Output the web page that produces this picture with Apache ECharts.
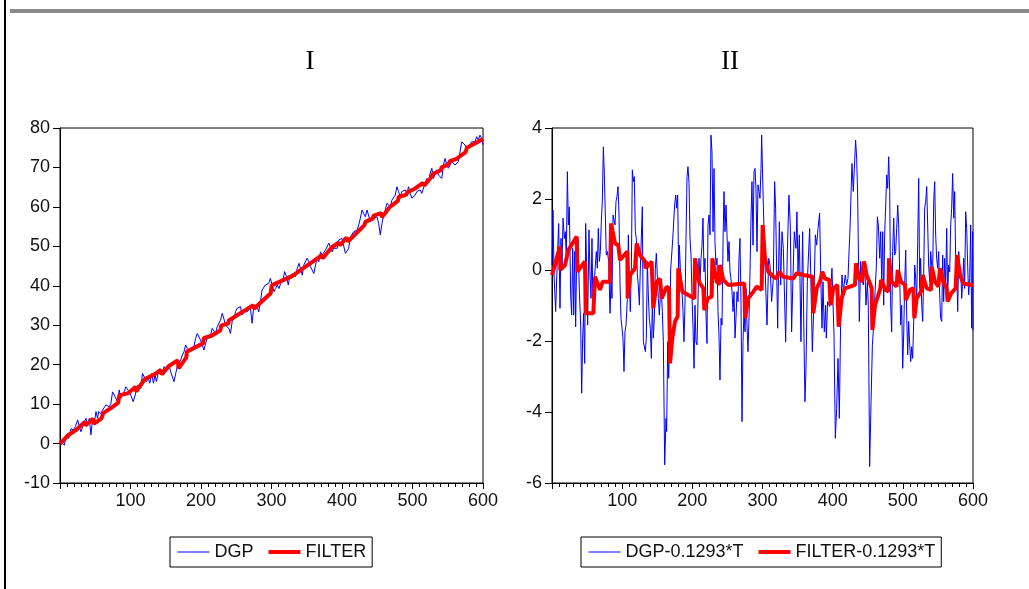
<!DOCTYPE html>
<html>
<head>
<meta charset="utf-8">
<script src="https://cdn.jsdelivr.net/npm/echarts@6/dist/echarts.min.js"></script>
<style>
  html, body { margin: 0; padding: 0; background: #fff; }
  #main { width: 1029px; height: 589px; }
</style>
</head>
<body>
<div id="main"></div>
<script>
// panel titles and legend names
var panelTitles = ['I', 'II'];
var namesLevel = ['DGP', 'FILTER'];
var namesDetrended = ['DGP-0.1293*T', 'FILTER-0.1293*T'];

// axis ranges (min, max, step)
var timeAxis = [0, 600, 100];
var levelAxis = [-10, 80, 10];
var detrendedAxis = [-6, 4, 2];

// panel I : DGP as [t, value]
var dgpLevel = [
  [1, 0.5], [2.9, 0.9], [6.2, -0.4], [8.6, 2.2], [12.3, 1.3], [15.6, 3.8], [18.9, 3.4], [21.8, 4.3], [25.1, 6.0],
  [27.4, 4.3], [29.8, 3.0], [32.1, 4.3], [34.5, 5.5], [36.9, 6.4], [39.2, 4.7], [41.6, 6.4], [43.9, 2.2],
  [46.3, 6.4], [48.6, 5.1], [51, 8.1], [53.3, 6.4], [54.8, 8.1], [58.1, 7.6], [60.4, 8.5], [62.8, 8.9],
  [65.1, 9.8], [67.5, 9.9], [69.8, 9.3], [72.2, 10.2], [74.5, 13.1], [76.9, 12.3], [79.3, 12.3], [81.6, 10.6],
  [84, 13.6], [86.3, 11.5], [88.7, 12.3], [91, 13.1], [93.4, 14.4], [95.8, 14.0], [98.1, 13.1], [100.5, 12.3],
  [103.8, 10.6], [106.6, 12.3], [109.9, 14.8], [112.3, 15.3], [114.6, 14.0], [117, 17.8], [119.3, 17.8],
  [122.6, 15.7], [125.4, 16.5], [127.3, 15.3], [130.2, 17.8], [132.5, 15.3], [134.9, 17.4], [136.8, 15.7],
  [139.6, 18.2], [142.9, 17.4], [145.2, 18.2], [147.6, 19.5], [150, 19.9], [152.3, 18.6], [154.7, 19.9],
  [157, 18.2], [159.4, 17.8], [161.7, 15.7], [164.1, 17.8], [166.4, 19.5], [168.8, 20.3], [171.2, 21.2],
  [173.5, 22.4], [175.9, 23.3], [178.2, 25.0], [180.6, 24.1], [182.9, 23.3], [185.3, 24.1], [187.7, 23.7],
  [190, 24.6], [192.4, 26.7], [194.7, 27.9], [197.1, 27.5], [199.4, 26.2], [201.8, 25.0], [204.1, 23.7],
  [206.5, 25.4], [208.9, 26.7], [211.2, 26.7], [213.6, 27.5], [215.9, 29.2], [218.3, 28.8], [220.6, 27.9],
  [223, 29.6], [225.4, 30.0], [227.7, 31.3], [230.1, 33.0], [232.4, 31.7], [234.8, 30.0], [237.1, 30.0],
  [239.5, 29.2], [241.8, 27.9], [244.2, 30.9], [246.6, 31.7], [248.9, 33.4], [251.3, 34.3], [253.6, 34.7],
  [256, 34.7], [258.3, 32.6], [260.7, 33.4], [263, 33.0], [265.4, 33.4], [267.8, 33.9], [270.1, 34.3],
  [272.5, 30.5], [274.8, 34.7], [277.2, 34.7], [279.5, 34.7], [281.9, 33.4], [284.3, 36.0], [286.6, 38.9],
  [289, 39.3], [291.3, 40.2], [293.7, 39.8], [296, 40.6], [298.4, 41.9], [300.7, 42.3], [303.5, 38.5],
  [305.9, 39.3], [308.2, 40.2], [310.6, 39.3], [313, 40.6], [316.7, 41.9], [318.6, 43.6], [321.4, 42.3],
  [323.8, 40.2], [326.1, 42.7], [328.5, 41.9], [330.8, 43.1], [334.1, 42.3], [336.5, 44.4], [338.9, 45.7],
  [341.2, 44.4], [343.6, 42.7], [345.9, 45.3], [348.3, 45.7], [350.6, 47.0], [353, 46.1], [355.4, 44.8],
  [357.7, 45.3], [360.1, 43.1], [362.4, 45.3], [364.8, 47.0], [367.1, 46.1], [369.5, 48.6], [371.8, 47.8],
  [374.2, 47.4], [376.6, 49.1], [378.9, 48.6], [381.3, 50.8], [383.6, 50.3], [386, 48.6], [388.3, 49.5],
  [390.7, 49.1], [393.1, 49.5], [395.4, 51.6], [397.8, 51.6], [400.1, 52.0], [402.5, 51.6], [404.8, 48.2],
  [407.2, 47.8], [409.5, 49.5], [411.9, 52.4], [414.3, 52.9], [416.6, 53.7], [419, 53.7], [421.3, 54.1],
  [423.7, 55.4], [426, 57.1], [428.4, 59.2], [430.8, 59.6], [433.1, 57.5], [435.5, 59.2], [437.8, 58.8],
  [440.2, 56.3], [442.5, 56.7], [444.9, 57.1], [447.2, 57.5], [449.6, 57.5], [452, 55.8], [454.3, 52.9],
  [456.7, 55.8], [459, 57.9], [461.4, 59.2], [463.7, 60.9], [466.1, 61.3], [468.5, 60.1], [470.8, 61.7],
  [473.2, 61.3], [475.5, 63.0], [477.9, 65.1], [480.2, 63.9], [482.6, 62.6], [484.9, 63.9], [487.3, 63.4],
  [489.7, 64.3], [492, 63.4], [494.4, 65.1], [496.7, 63.4], [499.1, 62.2], [501.4, 61.7], [503.8, 63.0],
  [506.2, 63.9], [508.5, 63.9], [510.9, 64.3], [513.2, 63.4], [515.6, 63.9], [517.9, 66.0], [520.3, 67.2],
  [522.6, 66.4], [525, 68.5], [527.4, 69.8], [529.7, 67.2], [532.1, 68.5], [534.4, 69.4], [536.8, 68.1],
  [539.1, 67.7], [541.5, 67.2], [543.9, 70.6], [546.2, 72.3], [548.6, 70.6], [550.9, 69.8], [553.3, 70.6],
  [555.6, 71.5], [558, 71.5], [560.4, 70.6], [562.7, 70.2], [565.1, 71.5], [567.4, 71.5], [569.8, 76.5],
  [572.1, 76.1], [574.5, 75.7], [576.8, 74.8], [579.2, 74.8], [581.6, 75.7], [583.9, 76.5], [586.3, 76.1],
  [588.6, 76.5], [591, 77.8], [593.3, 77.0], [595.7, 78.2], [598, 77.4], [600, 75.7]
];

// panel I : FILTER
var filterLevel = [
  [0, -0.1], [11.4, 2.1], [11.9, 1.6], [23.3, 3.5], [35.2, 5.5], [36.1, 4.6], [47, 6.3], [48, 5.0], [58.9, 6.4],
  [61.3, 7.7], [72.2, 9.0], [82.7, 10.4], [84.1, 12.2], [96.9, 12.8], [107.4, 14.4], [107.8, 13.2], [120.7, 16.4],
  [133, 17.4], [143, 18.7], [144.4, 17.5], [154, 19.6], [156.3, 19.4], [166.8, 21.1], [168.2, 19.1], [179.1, 21.8],
  [180, 23.3], [202.9, 25.4], [203.8, 26.7], [215.7, 27.4], [217.1, 26.9], [227.6, 28.7], [228.5, 29.9],
  [239, 30.5], [239.4, 31.2], [274.1, 35.1], [275.1, 34.2], [298.8, 38.1], [300.2, 40.1], [329.7, 42.5],
  [371.5, 47.8], [372.4, 46.9], [385.2, 49.7], [395.2, 50.9], [397.1, 50.3], [406.6, 52.2], [408.5, 51.2],
  [431.8, 55.4], [433.2, 56.2], [444, 57.1], [444.6, 57.8], [455.6, 58.4], [456.6, 57.4], [468, 60.0],
  [468.9, 60.4], [479.4, 61.5], [480.3, 62.5], [491.2, 63.1], [492.7, 63.7], [503.1, 64.6], [504.1, 64.3],
  [515, 66.1], [516.4, 65.4], [525.9, 67.4], [528.3, 68.3], [540.2, 69.3], [541.1, 70.0], [550.6, 70.7],
  [553, 71.6], [562.5, 72.2], [563.9, 72.0], [575.3, 73.9], [577.2, 75.0], [600, 77.2]
];

// panel II : DGP-0.1293*T
var dgpDetrended = [
  [0, 0.14], [1.4, 1.69], [2.9, -0.14], [5.2, -1.17], [7.6, 0.33], [9.5, 1.31], [11.4, -1.08], [12.8, 0.89],
  [14.3, 0.14], [15.7, 1.46], [17.6, 0.89], [19, 1.08], [20.4, 0.33], [21.9, 2.77], [23.3, 1.27], [24.7, 1.78],
  [26.6, -0.70], [28, -1.27], [29.5, 0.61], [30.9, -1.27], [32.3, 0.52], [33.7, -1.60], [35.2, 0.42], [37, 0.89],
  [39, -0.61], [40.9, -1.55], [42.3, -3.47], [43.7, -1.92], [45.1, -1.22], [46.6, -2.63], [48, 1.31], [49.4, 0.05],
  [50.8, -1.55], [52.7, 1.13], [54.2, -0.14], [55.6, -0.80], [57, 0.89], [58.4, -1.17], [60.3, -0.33], [61.8, 0.14],
  [63.2, 0.52], [64.6, 0.05], [66, 1.17], [67.5, 0.24], [68.9, 0.52], [70.3, 1.36], [71.7, 1.93], [73.2, 3.47],
  [74.6, 2.68], [76, 2.63], [77.4, 0.42], [78.9, 0.52], [80.8, 0.24], [82.7, -1.22], [84.1, -0.33], [85.5, -0.80],
  [87, 1.55], [88.4, 1.55], [89.8, 1.27], [91.2, 1.93], [92.6, 2.07], [94.1, 2.35], [95.5, 1.55], [96.9, -0.33],
  [98.3, -1.36], [99.8, -1.64], [101.2, -1.92], [102.6, -2.86], [104, -1.74], [105.5, -1.55], [107.4, -0.80],
  [108.8, 0.99], [110.2, -0.24], [111.6, -1.17], [113.1, 0.05], [114.5, 2.82], [115.9, 2.49], [117.3, 2.63],
  [118.8, 1.08], [120.2, 0.89], [121.6, -0.14], [123, -0.42], [124.5, -0.99], [125.9, 0.05], [127.3, 0.05],
  [128.7, 1.78], [130.2, -2.02], [131.6, -2.02], [133, -2.30], [134.4, -1.92], [135.9, 0.24], [137.3, -0.70],
  [138.7, -1.36], [140.1, -1.64], [141.6, -2.49], [143, -0.89], [144.4, -1.92], [145.8, -1.36], [147.3, 0.05],
  [148.7, 0.47], [150.1, 0.42], [151.5, -0.80], [153, -1.27], [155.4, -0.33], [157.2, -1.17], [158.7, -2.02],
  [160.6, -5.49], [162.5, -4.18], [163.4, -4.55], [164.9, -2.02], [166.3, -3.05], [167.7, -1.92], [169.1, 0.0],
  [170.6, -0.05], [172, 0.85], [173.4, 0.80], [174.8, 1.83], [176.3, 2.11], [177.7, 1.74], [179.1, 2.11],
  [180.5, -0.05], [181.5, 0.70], [182.9, 0.05], [184.8, -0.42], [186.7, -1.17], [188.1, -2.02], [189.6, -0.89],
  [191, 0.89], [192.4, 2.63], [193.8, 2.91], [195.3, 2.44], [196.7, 0.89], [198.1, 0.42], [199.5, -0.70],
  [201, -1.64], [202.4, -2.77], [203.8, -0.99], [205.2, -2.02], [206.7, -2.11], [208.1, -0.80], [209.5, 0.33],
  [210.9, -0.33], [212.4, 0.33], [213.8, 0.70], [215.2, 1.46], [216.6, -0.05], [218.1, 0.33], [219.5, -1.27],
  [220.9, -2.07], [222.3, 1.27], [223.8, 1.55], [225.2, 0.99], [226.6, 3.80], [228, 3.33], [229.5, 1.08],
  [230.9, 2.86], [232.3, 0.80], [233.7, 0.14], [235.2, 0.33], [236.6, -1.17], [238, -1.83], [239.4, -3.10],
  [240.9, -1.36], [242.3, -1.55], [243.7, 0.70], [245.1, 2.21], [246.6, 1.08], [248, 1.83], [249.4, 0.99],
  [250.8, 0.24], [252.3, 0.80], [253.7, -0.05], [255.1, -0.24], [256.5, -0.61], [258, -1.17], [259.4, -0.61],
  [260.8, -1.92], [262.2, -1.36], [263.7, -0.61], [265.1, -0.89], [266.5, 0.33], [267.9, 0.89], [269.4, -0.99],
  [270.8, -4.27], [272.2, -2.02], [273.6, -1.17], [275.1, -1.74], [276.5, -0.52], [277.9, -1.55], [279.3, -2.30],
  [280.8, -1.36], [282.2, -0.05], [283.6, 1.46], [285, 2.49], [286.5, 0.70], [287.9, 2.77], [289.3, 2.86],
  [290.7, 2.30], [292.2, 0.52], [293.6, 2.40], [295, 2.21], [296.4, 2.02], [297.9, 2.86], [298.8, 3.80],
  [301.2, 1.83], [303.5, 0.14], [306.4, -1.55], [308.8, 0.33], [310.7, 0.14], [313, -0.89], [315.4, -0.24],
  [317.3, 2.49], [318.7, 1.74], [321.6, -1.64], [324, 1.36], [325.9, -0.42], [327.8, 1.08], [329.7, 0.61],
  [333, -2.02], [335.4, 0.52], [337.7, 2.11], [339.6, 1.27], [341.5, -1.74], [343.4, -0.24], [345.3, 1.08],
  [347.7, 0.61], [349.1, 1.64], [350.6, -0.05], [352.5, 0.99], [354.8, -2.02], [357.2, 1.08], [359.1, -1.92],
  [360.5, -3.71], [361.9, -2.86], [363.9, -0.33], [367.2, 1.17], [369.1, -0.42], [371, -2.30], [372.9, -1.17],
  [375.3, 0.99], [377.2, 0.70], [379.1, 1.17], [381.4, 1.60], [383.3, -0.42], [384.8, -1.64], [386.2, -0.33],
  [388.1, -1.74], [390, -0.99], [390.9, -1.92], [392.8, -0.89], [395.7, -1.03], [399, 0.05], [401.9, -1.83],
  [403.8, -4.74], [405.7, -3.90], [407.6, -2.49], [409.5, -4.18], [411.4, -1.36], [413.3, -0.14], [415.2, -0.61],
  [418, -0.14], [419.9, -0.42], [421.8, -0.24], [424.7, 1.17], [427.5, 3.00], [429.4, 2.21], [432.7, 3.66],
  [434.2, 3.15], [435.6, 2.11], [437, 0.05], [438, -1.45], [439.9, 0.24], [441.8, -0.24], [443.7, -0.42],
  [445.6, 0.24], [447.5, -0.99], [449.4, -0.33], [450.8, -0.99], [452.7, -5.54], [454.7, -3.71], [456.6, -2.11],
  [458.5, -1.55], [460.4, -0.61], [462.3, 0.14], [463.7, 1.50], [465.1, 1.27], [467, 0.33], [468.4, 1.08],
  [469.9, -0.33], [471.3, 1.08], [472.7, -0.99], [474.1, 0.99], [475.6, 1.83], [477, 2.68], [478.4, 2.30],
  [479.8, 3.19], [481.3, 2.21], [482.7, -0.99], [484.1, -1.74], [485.5, 0.52], [487, 1.46], [488.4, 0.42],
  [489.8, 0.52], [491.2, 1.17], [492.7, 1.83], [494.1, 1.27], [495.5, -0.14], [496.9, -1.55], [498.4, -0.99],
  [499.8, -2.77], [501.2, -1.83], [502.6, -0.42], [504.1, 0.56], [505.5, -1.27], [506.9, -2.39], [508.3, -1.45],
  [509.8, -2.11], [511.2, -2.58], [512.6, -2.16], [514, -2.49], [515.5, -1.45], [516.9, 0.14], [518.3, -0.24],
  [519.7, -0.89], [521.2, 0.80], [522.6, 2.58], [524, -0.52], [525.4, 0.33], [526.9, -0.99], [528.3, -1.45],
  [529.7, -0.14], [531.1, 1.74], [532.6, 1.93], [534, 2.35], [535.4, 1.27], [536.8, 0.14], [538.3, -0.33],
  [539.7, 0.52], [541.1, 0.14], [542.5, -0.05], [544, 1.93], [545.4, 2.49], [546.8, 0.99], [548.2, 0.33],
  [549.7, 0.05], [551.1, 0.52], [552.5, -0.70], [553.9, -1.36], [555.4, -1.45], [556.8, 0.42], [558.2, -0.89],
  [559.6, 0.33], [561.1, -0.42], [562.5, 1.17], [563.9, -0.70], [565.3, 0.14], [566.8, -0.05], [568.2, 1.27],
  [569.6, 1.74], [571, 2.72], [572.5, 1.46], [573.9, 2.21], [575.3, 0.33], [576.7, 0.14], [578.2, -1.17],
  [579.6, 0.52], [581, 0.14], [582.4, 0.05], [583.9, -0.80], [585.3, -0.33], [586.7, 0.33], [588.1, -0.52],
  [589.6, 1.64], [591, 1.17], [592.4, 0.14], [593.8, -0.70], [595.3, -0.24], [596.7, 1.27], [598.1, -1.64],
  [599.5, 1.08], [600, -1.70]
];

// panel II : FILTER-0.1293*T
var filterDetrended = [
  [0, -0.14], [11.4, 0.66], [11.9, 0.0], [18.5, 0.14], [23.3, 0.56], [35.2, 0.94], [36.1, -0.05], [47, 0.24],
  [48, -1.22], [58.9, -1.22], [61.3, -0.19], [68.4, -0.56], [72.2, -0.33], [82.7, -0.33], [84.1, 1.31],
  [89.8, 0.75], [94.5, 0.70], [96.9, 0.28], [107.4, 0.52], [107.8, -0.80], [111.2, -0.14], [118.3, 0.05],
  [120.7, 0.75], [125.4, 0.42], [132.5, 0.24], [133.5, 0.05], [142, 0.24], [144.4, -1.08], [149.2, -0.33],
  [154, -0.25], [156.3, -0.80], [163.4, -0.47], [166.8, -0.52], [168.2, -2.63], [171.5, -1.92], [175.3, -1.45],
  [179.1, -1.31], [180, 0.05], [185.8, -0.61], [190.5, -0.66], [202.9, -0.80], [203.8, 0.33], [209.5, -0.33],
  [215.7, -0.52], [217.1, -1.13], [221.9, -0.80], [227.6, -0.75], [228.5, 0.33], [234.7, -0.33], [239, -0.40],
  [239.4, 0.14], [244.2, -0.28], [251.3, -0.42], [274.1, -0.38], [275.1, -1.36], [279.8, -0.80], [287, -0.61],
  [291.7, -0.47], [298.8, -0.56], [300.2, 1.27], [303.5, 0.33], [308.3, -0.05], [315.4, -0.19], [320.2, -0.24],
  [324, -0.05], [329.7, -0.19], [343.9, -0.24], [348.7, -0.09], [358.2, -0.14], [371.5, -0.19], [372.4, -1.22],
  [377.2, -0.52], [381.9, -0.33], [385.2, -0.05], [389, -0.24], [395.2, -0.28], [397.1, -0.99], [400.9, -0.52],
  [406.6, -0.42], [408.5, -1.60], [412.8, -0.80], [417.5, -0.52], [431.8, -0.42], [433.2, 0.19], [438, -0.24],
  [441.8, -0.33], [444.6, 0.24], [448.4, -0.14], [453.2, -0.38], [455.6, -0.52], [456.6, -1.69], [460.4, -0.99],
  [465.1, -0.70], [468, -0.52], [468.9, -0.28], [475.6, -0.56], [479.4, -0.61], [480.3, 0.33], [484.1, -0.33],
  [491.2, -0.47], [492.7, 0.0], [497.4, -0.33], [503.1, -0.42], [504.1, -0.85], [510.2, -0.56], [515, -0.52],
  [516.4, -1.36], [519.7, -0.80], [525.9, -0.61], [528.3, -0.14], [534, -0.52], [540.2, -0.56], [541.1, 0.09],
  [545.9, -0.33], [550.6, -0.47], [553, 0.05], [557.7, -0.33], [562.5, -0.52], [563.9, -0.89], [568.7, -0.66],
  [575.3, -0.52], [577.2, 0.42], [581.5, -0.14], [586.2, -0.38], [598.1, -0.42], [600, -0.42]
];

var blue = '#0000ff';
var red = '#ff0000';
var labelFont = 'Liberation Sans';

function xAxisFor(idx) {
  return {
    type: 'value', gridIndex: idx,
    min: timeAxis[0], max: timeAxis[1], interval: timeAxis[2],
    axisLine: { show: true, onZero: false, lineStyle: { color: '#000', width: 1 } },
    axisTick: { show: true, length: 6, lineStyle: { color: '#000' } },
    minorTick: { show: true, splitNumber: 10, length: 4, lineStyle: { color: '#000' } },
    splitLine: { show: false },
    axisLabel: {
      color: '#111', fontSize: 18, fontFamily: labelFont, margin: 9,
      formatter: function (v) { return v === 0 ? '' : String(v); }
    }
  };
}

function yAxisFor(idx, r) {
  return {
    type: 'value', gridIndex: idx,
    min: r[0], max: r[1], interval: r[2],
    axisLine: { show: true, onZero: false, lineStyle: { color: '#000', width: 1 } },
    axisTick: { show: true, length: 7, lineStyle: { color: '#000' } },
    splitLine: { show: false },
    axisLabel: { color: '#111', fontSize: 18, fontFamily: labelFont, margin: 10 }
  };
}

function lineSeries(name, data, idx, color, width, z) {
  return {
    name: name, type: 'line', xAxisIndex: idx, yAxisIndex: idx,
    data: data, symbol: 'none', showSymbol: false, z: z,
    lineStyle: { color: color, width: width },
    itemStyle: { color: color }
  };
}

function legendFor(names, left) {
  return {
    left: left, top: 537,
    orient: 'horizontal',
    padding: [6, 6, 6, 7],
    borderColor: '#000', borderWidth: 1,
    itemWidth: 32, itemHeight: 14, itemGap: 13,
    selectedMode: false,
    textStyle: { fontSize: 18, fontFamily: labelFont, color: '#111' },
    data: [
      { name: names[0], lineStyle: { width: 1, color: blue }, itemStyle: { opacity: 0 } },
      { name: names[1], lineStyle: { width: 4, color: red }, itemStyle: { opacity: 0 } }
    ]
  };
}

var titleStyle = { fontFamily: 'Liberation Serif', fontSize: 27, fontWeight: 'normal', color: '#000' };

var myChart = echarts.init(document.getElementById('main'), null, { renderer: 'canvas' });

var option = {
  animation: false,
  backgroundColor: '#fff',
  title: [
    { text: panelTitles[0], left: 310, top: 48, padding: 0, textAlign: 'center', textStyle: titleStyle },
    { text: panelTitles[1], left: 730, top: 48, padding: 0, textAlign: 'center', textStyle: titleStyle }
  ],
  graphic: [
    { type: 'rect', shape: { x: 10, y: 9, width: 1019, height: 4 }, style: { fill: '#888' } },
    { type: 'rect', shape: { x: 4, y: 0, width: 2, height: 589 }, style: { fill: '#000' } }
  ],
  legend: [legendFor(namesLevel, 170), legendFor(namesDetrended, 581)],
  grid: [
    { left: 60, top: 128, width: 423, height: 355, show: true, borderColor: '#000', borderWidth: 1, backgroundColor: '#fff' },
    { left: 552, top: 128, width: 421, height: 355, show: true, borderColor: '#000', borderWidth: 1, backgroundColor: '#fff' }
  ],
  xAxis: [xAxisFor(0), xAxisFor(1)],
  yAxis: [yAxisFor(0, levelAxis), yAxisFor(1, detrendedAxis)],
  series: [
    lineSeries(namesLevel[0], dgpLevel, 0, blue, 1, 2),
    lineSeries(namesLevel[1], filterLevel, 0, red, 4, 3),
    lineSeries(namesDetrended[0], dgpDetrended, 1, blue, 1, 2),
    lineSeries(namesDetrended[1], filterDetrended, 1, red, 4, 3)
  ]
};

myChart.setOption(option);
</script>
</body>
</html>
